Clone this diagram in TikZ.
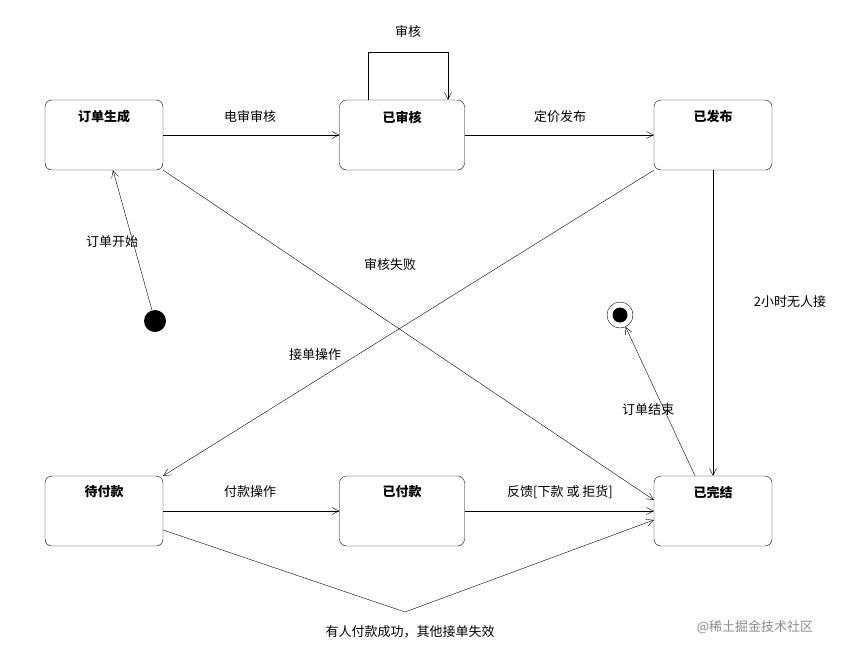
\documentclass[tikz,border=0pt]{standalone}
\usepackage{fontspec}
\setmainfont{Noto Sans CJK SC}
\usetikzlibrary{arrows.meta,positioning}
\begin{document}
\begin{tikzpicture}[
  x=1pt, y=-1pt,
  state/.style={draw, rounded corners=7pt, minimum width=118pt, minimum height=70pt, inner sep=0pt},
  lbl/.style={font=\fontsize{13}{15}\selectfont},
  arr/.style={-{Straight Barb[length=7pt,width=7pt]}, thin},
  ]
  \useasboundingbox (0,0) rectangle (855,654);

  % States
  \node[state] (gen) at (104,135) {};
  \node[state, minimum width=125pt] (aud) at (402,135) {};
  \node[state] (pub) at (713,135) {};
  \node[state] (wait) at (104,511) {};
  \node[state, minimum width=125pt] (paid) at (402,511) {};
  \node[state] (done) at (713,511) {};
  \node[lbl] at (104,117) {\textbf{订单生成}};
  \node[lbl] at (402,117) {\textbf{已审核}};
  \node[lbl] at (713,117) {\textbf{已发布}};
  \node[lbl] at (104,492) {\textbf{待付款}};
  \node[lbl] at (402,492) {\textbf{已付款}};
  \node[lbl] at (713,492) {\textbf{已完结}};

  % Start and end
  \node[circle, fill, minimum size=22pt, inner sep=0pt] (start) at (155,321) {};
  \node[circle, draw, minimum size=26pt, inner sep=0pt] (stop) at (620,315) {};
  \node[circle, fill, minimum size=15pt, inner sep=0pt] at (stop) {};
  \coordinate (loopa) at (368,52);
  \coordinate (loopb) at (448,52);
  \coordinate (bend) at (405,612);

  % Transitions
  \draw[arr] (start) -- (gen.south -| 113,0);
  \draw[arr] (aud.north -| loopa) -- (loopa) -- (loopb) -- (aud.north -| loopb);
  \draw[arr] (gen) -- (aud);
  \draw[arr] (aud) -- (pub);
  \draw[arr] (pub.south) -- (done.north);
  \draw[arr] (gen.south east) -- (done.west |- 0,500);
  \draw[arr] (pub.south west) -- (wait.north east);
  \draw[arr] (wait) -- (paid);
  \draw[arr] (paid) -- (done);
  \draw[arr] (wait.east |- 0,530) -- (bend) -- (done.west |- 0,520);
  \draw[arr] (done.north -| 695,0) -- (stop);

  % Labels
  \node[lbl] at (112,242) {订单开始};
  \node[lbl] at (408,32) {审核};
  \node[lbl] at (250,117) {电审审核};
  \node[lbl] at (560,117) {定价发布};
  \node[lbl] at (790,302) {2小时无人接};
  \node[lbl] at (390,265) {审核失败};
  \node[lbl] at (315,355) {接单操作};
  \node[lbl] at (648,410) {订单结束};
  \node[lbl] at (250,492) {付款操作};
  \node[lbl] at (560,492) {反馈[下款 或 拒货]};
  \node[lbl] at (410,632) {有人付款成功，其他接单失效};
  \node[lbl, text=black!45] at (755,627) {@稀土掘金技术社区};
\end{tikzpicture}
\end{document}
